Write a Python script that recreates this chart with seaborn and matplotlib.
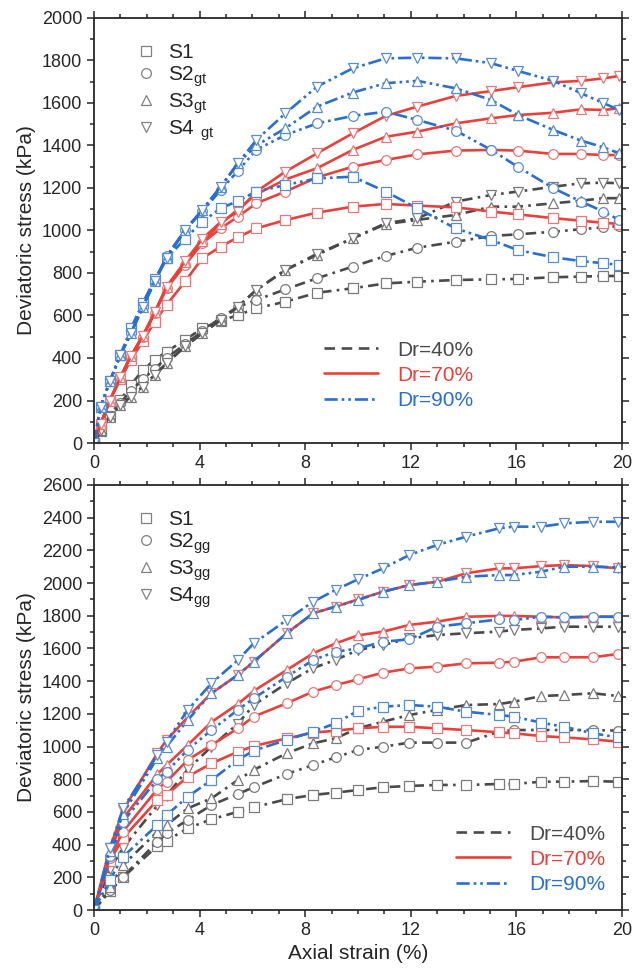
import matplotlib
matplotlib.use('Agg')
import matplotlib.pyplot as plt
from matplotlib.lines import Line2D
from matplotlib.ticker import MultipleLocator
import pandas as pd
import seaborn as sns

# ---- data ----
strain_top = [0, 0.25, 0.6, 1.0, 1.4, 1.85, 2.3, 2.75, 3.45, 4.1, 4.8, 5.45, 6.15,
              7.25, 8.45, 9.8, 11.05, 12.25, 13.7, 15.05, 16.05, 17.4, 18.45, 19.3, 19.9]

top_dr40_s1 = [0, 55, 125, 202, 273, 344, 391, 430, 485, 540, 575, 602, 634, 665, 707, 728, 751, 759, 767, 770, 772, 780, 783, 786, 786]
top_dr40_s2 = [0, 58, 125, 190, 245, 300, 350, 400, 465, 525, 590, 640, 673, 723, 775, 830, 880, 919, 947, 974, 982, 994, 1006, 1015, 1021]
top_dr40_s3 = [0, 61, 124, 179, 218, 265, 320, 375, 455, 516, 579, 641, 720, 814, 885, 963, 1030, 1050, 1073, 1112, 1112, 1128, 1140, 1152, 1152]
top_dr40_s4 = [0, 61, 124, 179, 218, 265, 320, 375, 455, 516, 579, 641, 720, 814, 890, 963, 1034, 1057, 1136, 1167, 1183, 1206, 1222, 1225, 1222]

top_dr70_s1 = [0, 90, 200, 300, 390, 480, 570, 650, 760, 869, 924, 968, 1010, 1049, 1084, 1112, 1125, 1117, 1109, 1089, 1076, 1058, 1046, 1036, 1031]
top_dr70_s2 = [0, 90, 200, 310, 410, 500, 610, 728, 838, 940, 1010, 1065, 1128, 1183, 1250, 1300, 1332, 1358, 1376, 1379, 1376, 1360, 1360, 1355, 1355]
top_dr70_s3 = [0, 90, 200, 310, 410, 505, 615, 735, 850, 950, 1030, 1100, 1170, 1240, 1293, 1379, 1441, 1465, 1504, 1528, 1543, 1554, 1570, 1567, 1575]
top_dr70_s4 = [0, 90, 200, 310, 410, 505, 615, 735, 855, 960, 1040, 1089, 1183, 1277, 1363, 1457, 1539, 1583, 1633, 1656, 1674, 1697, 1704, 1716, 1727]

top_dr90_s1 = [0, 170, 290, 414, 540, 660, 770, 870, 960, 1042, 1104, 1139, 1183, 1214, 1245, 1253, 1183, 1104, 1010, 955, 908, 874, 856, 846, 838]
top_dr90_s2 = [0, 170, 290, 414, 516, 641, 760, 880, 1002, 1090, 1190, 1280, 1380, 1449, 1504, 1539, 1559, 1520, 1470, 1379, 1300, 1199, 1136, 1089, 1049]
top_dr90_s3 = [0, 170, 290, 414, 516, 641, 760, 870, 1002, 1096, 1206, 1316, 1400, 1481, 1583, 1649, 1693, 1704, 1669, 1614, 1544, 1473, 1423, 1391, 1363]
top_dr90_s4 = [0, 170, 290, 414, 516, 641, 760, 870, 1002, 1096, 1206, 1316, 1426, 1551, 1677, 1763, 1810, 1813, 1810, 1787, 1751, 1704, 1646, 1599, 1567]

strain_bot = [0, 0.6, 1.1, 2.4, 2.75, 3.55, 4.45, 5.45, 6.05, 7.3, 8.3, 9.15, 10.0,
              10.95, 11.95, 13.0, 14.1, 15.35, 15.9, 16.95, 17.8, 18.9, 19.85]

bot_dr40_s1 = [0, 115, 200, 392, 424, 500, 555, 601, 628, 678, 704, 718, 734, 751, 759, 765, 765, 771, 771, 785, 785, 789, 785]
bot_dr40_s2 = [0, 122, 204, 418, 469, 551, 642, 710, 751, 832, 887, 934, 979, 999, 1024, 1024, 1024, 1091, 1101, 1101, 1101, 1101, 1097]
bot_dr40_s3 = [0, 143, 275, 479, 520, 622, 683, 795, 857, 959, 1020, 1050, 1112, 1152, 1193, 1224, 1254, 1260, 1274, 1309, 1315, 1326, 1309]
bot_dr40_s4 = [0, 250, 380, 640, 700, 860, 1000, 1140, 1254, 1387, 1480, 1530, 1590, 1621, 1662, 1682, 1693, 1703, 1713, 1723, 1733, 1733, 1733]

bot_dr70_s1 = [0, 300, 440, 673, 704, 816, 897, 968, 1003, 1050, 1085, 1097, 1111, 1121, 1121, 1111, 1101, 1087, 1081, 1064, 1056, 1044, 1030]
bot_dr70_s2 = [0, 320, 480, 740, 785, 918, 1009, 1111, 1183, 1265, 1336, 1376, 1411, 1452, 1478, 1489, 1509, 1513, 1519, 1546, 1546, 1546, 1566]
bot_dr70_s3 = [0, 350, 560, 830, 887, 1009, 1150, 1260, 1340, 1468, 1570, 1631, 1680, 1703, 1744, 1764, 1794, 1799, 1799, 1794, 1790, 1794, 1794]
bot_dr70_s4 = [0, 377, 610, 960, 1040, 1180, 1326, 1438, 1519, 1693, 1815, 1856, 1900, 1947, 1988, 2008, 2060, 2090, 2090, 2104, 2110, 2104, 2090]

bot_dr90_s1 = [0, 184, 326, 520, 581, 693, 795, 918, 975, 1040, 1091, 1142, 1219, 1244, 1254, 1244, 1213, 1193, 1183, 1146, 1121, 1081, 1056]
bot_dr90_s2 = [0, 330, 540, 800, 846, 980, 1101, 1224, 1295, 1427, 1529, 1580, 1600, 1641, 1656, 1733, 1754, 1778, 1774, 1794, 1790, 1794, 1794]
bot_dr90_s3 = [0, 360, 590, 930, 1000, 1162, 1326, 1438, 1519, 1693, 1815, 1856, 1896, 1947, 1988, 2008, 2039, 2049, 2049, 2070, 2100, 2100, 2096]
bot_dr90_s4 = [0, 377, 622, 948, 1030, 1224, 1387, 1529, 1631, 1774, 1886, 1958, 2023, 2090, 2172, 2233, 2284, 2335, 2345, 2345, 2365, 2375, 2375]

samples = ['S1', 'S2', 'S3', 'S4']
densities = ['Dr=40%', 'Dr=70%', 'Dr=90%']
top_labels = ['S1', 'S2$_{\\mathregular{gt}}$', 'S3$_{\\mathregular{gt}}$', 'S4$\\ _{\\mathregular{gt}}$']
bot_labels = ['S1', 'S2$_{\\mathregular{gg}}$', 'S3$_{\\mathregular{gg}}$', 'S4$_{\\mathregular{gg}}$']

# ---- styles ----
LINE_COL = {'Dr=40%': '#4a4a4a', 'Dr=70%': '#e8413c', 'Dr=90%': '#2a6ecf'}
EDGE_COL = {'Dr=40%': '#7a7a7a', 'Dr=70%': '#e77a78', 'Dr=90%': '#5a8ccc'}
LS = {'Dr=40%': (0, (4, 2, 1, 2)), 'Dr=70%': '-', 'Dr=90%': (0, (5, 1.5, 1, 1.5, 1, 1.5))}
MARK = {'S1': 's', 'S2': 'o', 'S3': '^', 'S4': 'v'}


def build_frame(strain, table):
    rows = []
    for dr, series in table.items():
        for s, vals in zip(samples, series):
            for x, y in zip(strain, vals):
                rows.append({'strain': x, 'stress': y, 'Dr': dr, 'sample': s})
    return pd.DataFrame(rows)


top_df = build_frame(strain_top, {
    'Dr=40%': [top_dr40_s1, top_dr40_s2, top_dr40_s3, top_dr40_s4],
    'Dr=70%': [top_dr70_s1, top_dr70_s2, top_dr70_s3, top_dr70_s4],
    'Dr=90%': [top_dr90_s1, top_dr90_s2, top_dr90_s3, top_dr90_s4],
})
bot_df = build_frame(strain_bot, {
    'Dr=40%': [bot_dr40_s1, bot_dr40_s2, bot_dr40_s3, bot_dr40_s4],
    'Dr=70%': [bot_dr70_s1, bot_dr70_s2, bot_dr70_s3, bot_dr70_s4],
    'Dr=90%': [bot_dr90_s1, bot_dr90_s2, bot_dr90_s3, bot_dr90_s4],
})

sns.set_style('ticks')
plt.rcParams['font.family'] = ['Liberation Sans', 'DejaVu Sans']
plt.rcParams['mathtext.fontset'] = 'custom'
plt.rcParams['mathtext.rm'] = 'Liberation Sans'


def draw_panel(ax, df, ymax, labels, dr_anchor):
    for dr in densities:
        for s in samples:
            d = df[(df['Dr'] == dr) & (df['sample'] == s)]
            sns.lineplot(data=d, x='strain', y='stress', ax=ax, sort=False,
                         estimator=None, color=LINE_COL[dr], linestyle=LS[dr],
                         linewidth=1.9, marker=MARK[s], markersize=7,
                         markerfacecolor='white', markeredgecolor=EDGE_COL[dr],
                         markeredgewidth=0.9, legend=False)
    ax.set_xlim(0, 20)
    ax.set_ylim(0, ymax)
    ax.xaxis.set_major_locator(MultipleLocator(4))
    ax.xaxis.set_minor_locator(MultipleLocator(1))
    ax.yaxis.set_major_locator(MultipleLocator(200))
    ax.yaxis.set_minor_locator(MultipleLocator(100))
    ax.tick_params(which='both', direction='out', top=True, right=True,
                   labeltop=False, labelright=False, labelsize=13, width=1.1)
    ax.tick_params(which='major', length=5)
    ax.tick_params(which='minor', length=3)
    for sp in ax.spines.values():
        sp.set_linewidth(1.3)
        sp.set_visible(True)
    ax.set_ylabel('Deviatoric stress (kPa)', fontsize=15)
    ax.set_xlabel('')

    mk = [Line2D([], [], ls='none', marker=MARK[s], ms=7, mfc='white',
                 mec='#808080', mew=0.9) for s in samples]
    leg1 = ax.legend(mk, labels, loc='upper left', bbox_to_anchor=(0.058, 0.97),
                     frameon=False, fontsize=15, handlelength=0.9,
                     handletextpad=0.6, labelspacing=0.1, borderaxespad=0.2)
    ax.add_artist(leg1)

    ln = [Line2D([], [], color=LINE_COL['Dr=40%'], lw=1.9, ls=(0, (4, 2.5))),
          Line2D([], [], color=LINE_COL['Dr=70%'], lw=1.9, ls='-'),
          Line2D([], [], color=LINE_COL['Dr=90%'], lw=1.9, ls=LS['Dr=90%'])]
    ax.legend(ln, densities, loc='lower left', bbox_to_anchor=dr_anchor,
              frameon=False, fontsize=15, handlelength=2.6, handletextpad=0.9,
              labelspacing=0.3, borderaxespad=0.0,
              labelcolor=[LINE_COL[d] for d in densities])


fig = plt.figure(figsize=(6.42, 9.76), dpi=100)
ax_top = fig.add_axes([0.1464, 0.5461, 0.8224, 0.4355])
ax_bot = fig.add_axes([0.1464, 0.0676, 0.8224, 0.4355])

draw_panel(ax_top, top_df, 2000, top_labels, (0.42, 0.058))
draw_panel(ax_bot, bot_df, 2600, bot_labels, (0.67, 0.018))
ax_bot.set_xlabel('Axial strain (%)', fontsize=15)

fig.savefig('out.png', dpi=100)
plt.close(fig)
